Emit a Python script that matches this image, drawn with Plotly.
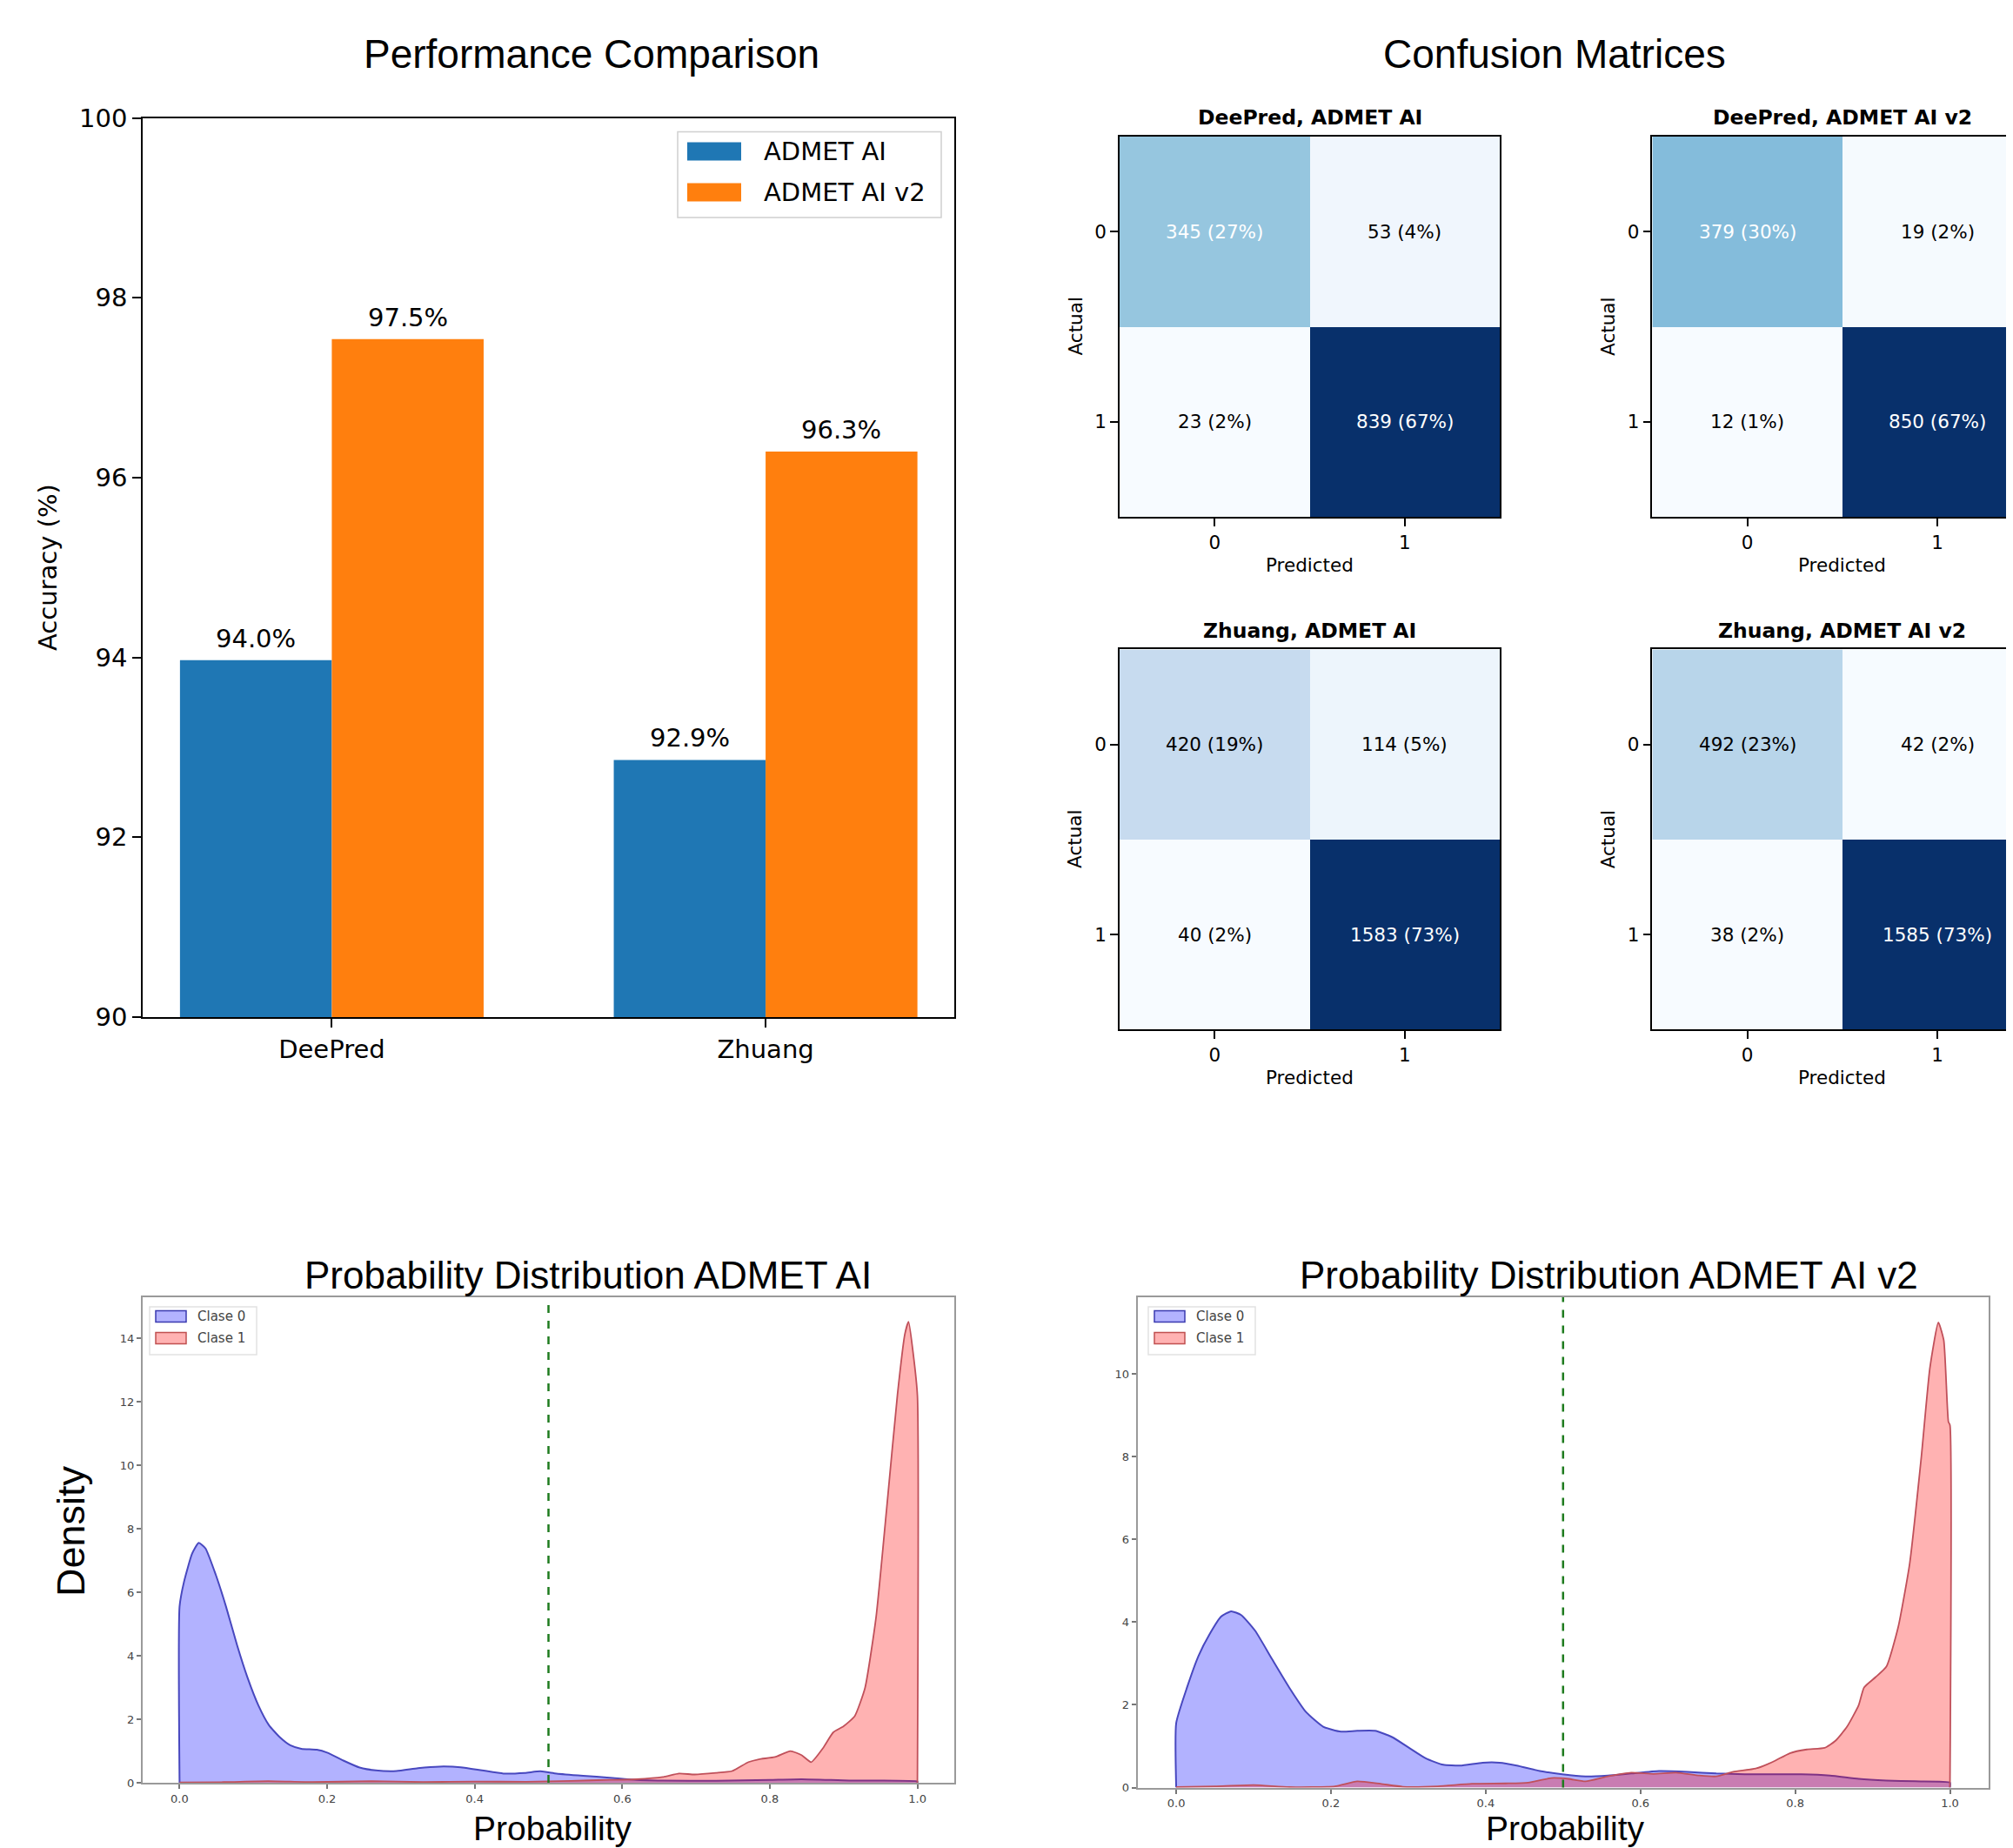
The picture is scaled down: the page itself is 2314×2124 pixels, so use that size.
import numpy as np
import plotly.graph_objects as go

W, H = 2314, 2124
OFF = 8  # page body margin of the html page

# ---------------- data ----------------
datasets = ["DeePred", "Zhuang"]
acc_admet = [93.97, 92.86]
acc_admet_v2 = [97.54, 96.29]
series_names = ["ADMET AI", "ADMET AI v2"]

cm_titles = ["DeePred, ADMET AI", "DeePred, ADMET AI v2", "Zhuang, ADMET AI", "Zhuang, ADMET AI v2"]
cm_deepred_v1 = [[345, 53], [23, 839]]
cm_deepred_v2 = [[379, 19], [12, 850]]
cm_zhuang_v1 = [[420, 114], [40, 1583]]
cm_zhuang_v2 = [[492, 42], [38, 1585]]
cm_ticks = ["0", "1"]

# KDE curves (ADMET AI)
p1_x0 = [0, 0, 0.006, 0.017, 0.026, 0.035, 0.049, 0.063, 0.078, 0.092, 0.107, 0.121, 0.136, 0.15, 0.165, 0.186,
         0.2, 0.222, 0.244, 0.266, 0.294, 0.323, 0.352, 0.381, 0.41, 0.439, 0.468, 0.489, 0.511, 0.547, 0.583,
         0.619, 0.655, 0.727, 0.8, 0.843, 0.908, 1.0, 1.0]
p1_y0 = [0, 5.55, 6.33, 7.22, 7.56, 7.39, 6.56, 5.55, 4.33, 3.32, 2.43, 1.82, 1.43, 1.18, 1.07, 1.04,
         0.95, 0.70, 0.48, 0.39, 0.37, 0.46, 0.51, 0.49, 0.39, 0.29, 0.31, 0.36, 0.29, 0.22, 0.16,
         0.09, 0.07, 0.06, 0.09, 0.11, 0.07, 0.04, 0]
p1_x1 = [0, 0.06, 0.12, 0.18, 0.26, 0.33, 0.4, 0.47, 0.53, 0.583, 0.619, 0.655, 0.677, 0.698, 0.727, 0.749,
         0.771, 0.785, 0.807, 0.828, 0.843, 0.856, 0.872, 0.886, 0.9, 0.915, 0.929, 0.944, 0.958, 0.973,
         0.983, 0.988, 0.994, 1.0, 1.0]
p1_y1 = [0.01, 0.02, 0.05, 0.02, 0.05, 0.02, 0.04, 0.03, 0.06, 0.09, 0.11, 0.18, 0.29, 0.26, 0.31, 0.37,
         0.65, 0.74, 0.81, 1.0, 0.87, 0.65, 1.09, 1.59, 1.78, 2.1, 2.99, 5.22, 8.56, 12.24,
         14.14, 14.53, 13.58, 12.2, 0]

# KDE curves (ADMET AI v2)
p2_x0 = [0, 0, 0.014, 0.029, 0.043, 0.058, 0.071, 0.084, 0.102, 0.124, 0.146, 0.168, 0.19, 0.213, 0.234,
         0.257, 0.279, 0.301, 0.323, 0.345, 0.367, 0.396, 0.418, 0.44, 0.47, 0.499, 0.529, 0.558, 0.588,
         0.624, 0.661, 0.698, 0.735, 0.771, 0.808, 0.845, 0.882, 0.918, 0.955, 1.0, 1.0]
p2_y0 = [0, 1.56, 2.42, 3.19, 3.7, 4.13, 4.26, 4.17, 3.79, 3.1, 2.42, 1.82, 1.47, 1.35, 1.37,
         1.37, 1.22, 0.96, 0.70, 0.55, 0.53, 0.6, 0.6, 0.53, 0.4, 0.32, 0.27, 0.29, 0.34,
         0.4, 0.38, 0.34, 0.32, 0.32, 0.32, 0.29, 0.21, 0.17, 0.15, 0.12, 0]
p2_x1 = [0, 0.05, 0.1, 0.146, 0.205, 0.234, 0.264, 0.293, 0.338, 0.382, 0.426, 0.455, 0.485, 0.507, 0.529,
         0.558, 0.588, 0.617, 0.646, 0.676, 0.698, 0.72, 0.749, 0.771, 0.793, 0.815, 0.838, 0.852, 0.867,
         0.882, 0.889, 0.904, 0.918, 0.933, 0.948, 0.963, 0.974, 0.985, 0.992, 0.998, 1.0, 1.0]
p2_y1 = [0.01, 0.03, 0.06, 0.01, 0.03, 0.15, 0.09, 0.02, 0.03, 0.09, 0.1, 0.12, 0.23, 0.21, 0.15,
         0.27, 0.36, 0.33, 0.36, 0.29, 0.27, 0.38, 0.46, 0.62, 0.83, 0.92, 0.96, 1.13, 1.47,
         1.99, 2.42, 2.67, 2.93, 3.87, 5.42, 7.99, 10.13, 11.24, 10.81, 8.84, 8.76, 0]
kde_names = ["Clase 0", "Clase 1"]
threshold = 0.5
prob_ticks = [0.0, 0.2, 0.4, 0.6, 0.8, 1.0]

# ---------------- helpers (page pixels -> paper fractions) ----------------
def fx(p):
    return (p - OFF) / W

def fy(p):
    return 1 - (p - OFF) / H

MPL = "DejaVu Sans"
TITLE_FONT = "Liberation Sans, Arial, sans-serif"
BLUES = ['rgb(247,251,255)', 'rgb(222,235,247)', 'rgb(198,219,239)', 'rgb(158,202,225)', 'rgb(107,174,214)',
         'rgb(66,146,198)', 'rgb(33,113,181)', 'rgb(8,81,156)', 'rgb(8,48,107)']
blues_scale = [[i / 8, c] for i, c in enumerate(BLUES)]

fig = go.Figure()
annotations = []
shapes = []


def ptext(x, y, text, size, family, color="black", xanchor="center", yanchor="middle", angle=0):
    annotations.append(dict(x=fx(x), y=fy(y), xref="paper", yref="paper", text=text, showarrow=False,
                            xanchor=xanchor, yanchor=yanchor, textangle=angle,
                            font=dict(family=family, size=size, color=color)))


# ---------------- bar chart ----------------
pos = np.arange(len(datasets))
bw = 0.35
fig.add_trace(go.Bar(x=pos - bw / 2, y=acc_admet, width=bw, marker_color="#1f77b4", marker_line_width=0,
                     name=series_names[0], showlegend=False, xaxis="x", yaxis="y"))
fig.add_trace(go.Bar(x=pos + bw / 2, y=acc_admet_v2, width=bw, marker_color="#ff7f0e", marker_line_width=0,
                     name=series_names[1], showlegend=False, xaxis="x", yaxis="y"))
for xs, vals in [(pos - bw / 2, acc_admet), (pos + bw / 2, acc_admet_v2)]:
    for xv, v in zip(xs, vals):
        annotations.append(dict(x=xv, y=v, xref="x", yref="y", text=f"{v:.1f}%", showarrow=False,
                                xanchor="center", yanchor="bottom", yshift=6,
                                font=dict(family=MPL, size=29, color="black")))

axis_common = dict(showgrid=False, zeroline=False, showline=True, linecolor="black", linewidth=1.5,
                   ticks="outside", tickcolor="black", tickwidth=1.5, automargin=False)
fig.update_layout(
    xaxis=dict(domain=[fx(164), fx(1097)], range=[-0.436, 1.435], tickvals=list(pos), ticktext=datasets,
               ticklen=10, mirror=True, tickfont=dict(family=MPL, size=29, color="black"), anchor="y",
               **axis_common),
    yaxis=dict(domain=[fy(1169), fy(135.6)], range=[90, 100], dtick=2, ticklen=10, mirror=True,
               tickfont=dict(family=MPL, size=29, color="black"), anchor="x", **axis_common),
)
ptext(55, 652, "Accuracy (%)", 29, MPL, angle=-90)
# legend (matplotlib style)
shapes.append(dict(type="rect", xref="paper", yref="paper", x0=fx(779), x1=fx(1082), y0=fy(250), y1=fy(151.5),
                   line=dict(color="#d0d0d0", width=1.5), fillcolor="rgba(255,255,255,0.85)"))
for i, (nm, col) in enumerate(zip(series_names, ["#1f77b4", "#ff7f0e"])):
    yc = 174 + i * 47
    shapes.append(dict(type="rect", xref="paper", yref="paper", x0=fx(790), x1=fx(852), y0=fy(yc + 10.5),
                       y1=fy(yc - 10.5), line=dict(width=0), fillcolor=col))
    ptext(876, yc, nm, 29, MPL, xanchor="left")
ptext(680, 62, "Performance Comparison", 46, TITLE_FONT)

# ---------------- confusion matrices ----------------
ptext(1787, 62, "Confusion Matrices", 46, TITLE_FONT)
cms = [cm_deepred_v1, cm_deepred_v2, cm_zhuang_v1, cm_zhuang_v2]
cell = (1724 - 1287) / 2
boxes = [(1287, 157, False), (1899.4, 157, True), (1287, 746.4, False), (1899.4, 746.4, True)]
for k, (cm, title, (x0p, y0p, clipped)) in enumerate(zip(cms, cm_titles, boxes)):
    ax = k + 2
    xa, ya = f"x{ax}", f"y{ax}"
    z = np.array(cm, dtype=float)
    zmin, zmax = z.min(), z.max()
    total = z.sum()
    fig.add_trace(go.Heatmap(z=z, x=[0, 1], y=[0, 1], colorscale=blues_scale, zmin=zmin, zmax=zmax,
                             showscale=False, xaxis=xa, yaxis=ya, hoverinfo="skip"))
    x1p = min(x0p + 2 * cell, W + OFF)
    xr_hi = -0.5 + (x1p - x0p) / cell
    y1p = y0p + 2 * cell
    fig.layout[f"xaxis{ax}"] = dict(domain=[fx(x0p), min(fx(x1p), 1)], range=[-0.5, xr_hi], tickvals=[0, 1],
                                    ticktext=cm_ticks, ticklen=9, mirror=True, anchor=ya,
                                    tickfont=dict(family=MPL, size=21.5, color="black"), **axis_common)
    fig.layout[f"yaxis{ax}"] = dict(domain=[fy(y1p), fy(y0p)], range=[1.5, -0.5], tickvals=[0, 1],
                                    ticktext=cm_ticks, ticklen=9, mirror=not clipped, anchor=xa,
                                    tickfont=dict(family=MPL, size=21.5, color="black"), **axis_common)
    for i in range(2):
        for j in range(2):
            v = int(cm[i][j])
            norm = (v - zmin) / (zmax - zmin)
            col = "white" if norm > 0.35 else "black"
            annotations.append(dict(x=j, y=i, xref=xa, yref=ya, text=f"{v} ({v / total * 100:.0f}%)",
                                    showarrow=False, xanchor="center", yanchor="middle",
                                    font=dict(family=MPL, size=21.5, color=col)))
    cx = x0p + cell
    ptext(cx, y0p - 21.5, f"<b>{title}</b>", 23.5, MPL)
    ptext(cx, y1p + 55.5, "Predicted", 21.5, MPL)
    ptext(x0p - 51, y0p + cell, "Actual", 21.5, MPL, angle=-90)

# ---------------- KDE plots ----------------
kde_axis = dict(showgrid=False, zeroline=False, showline=True, linecolor="#9a9a9a", linewidth=2, mirror=True,
                ticks="outside", tickcolor="#777", tickwidth=1.5, ticklen=5, automargin=False)
kde_sets = [
    (6, p1_x0, p1_y0, p1_x1, p1_y1, (164, 1097, 1491, 2049), [0, 15.3], "Probability Distribution ADMET AI",
     (182, 1513), 676, 635),
    (7, p2_x0, p2_y0, p2_x1, p2_y1, (1307.6, 2286, 1491, 2054.5), [0, 11.85],
     "Probability Distribution ADMET AI v2", (1330, 1513), 1849, 1799),
]
for ax, xb, yb, xr, yr, (l, r, t, b), yrange, title, (lgx, lgy), tcx, lcx in kde_sets:
    xa, ya = f"x{ax}", f"y{ax}"
    fig.add_trace(go.Scatter(x=xb, y=yb, mode="lines", fill="tozeroy", fillcolor="rgba(0,0,255,0.3)",
                             line=dict(color="#4848bf", width=2, shape="spline", smoothing=0.5),
                             name=kde_names[0], showlegend=False, xaxis=xa, yaxis=ya, hoverinfo="skip"))
    fig.add_trace(go.Scatter(x=xr, y=yr, mode="lines", fill="tozeroy", fillcolor="rgba(255,0,0,0.3)",
                             line=dict(color="#c0505a", width=1.8, shape="spline", smoothing=0.5),
                             name=kde_names[1], showlegend=False, xaxis=xa, yaxis=ya, hoverinfo="skip"))
    fig.layout[f"xaxis{ax}"] = dict(domain=[fx(l), fx(r)], range=[-0.05, 1.05], tickvals=prob_ticks,
                                    tickformat=".1f", anchor=ya,
                                    tickfont=dict(family=MPL, size=13, color="#444"), **kde_axis)
    fig.layout[f"yaxis{ax}"] = dict(domain=[fy(b), fy(t)], range=yrange, dtick=2, anchor=xa,
                                    tickfont=dict(family=MPL, size=13, color="#444"), **kde_axis)
    shapes.append(dict(type="line", xref=xa, yref=f"{ya} domain", x0=threshold, x1=threshold, y0=0, y1=1,
                       line=dict(color="#1e7b1e", width=2.5, dash="dash")))
    # legend box
    shapes.append(dict(type="rect", xref="paper", yref="paper", x0=fx(lgx - 10), x1=fx(lgx + 113),
                       y0=fy(lgy + 44), y1=fy(lgy - 11), line=dict(color="#e2e2e2", width=1.5),
                       fillcolor="rgba(255,255,255,0.8)"))
    for i, (nm, fc, lc) in enumerate(zip(kde_names, ["rgba(0,0,255,0.3)", "rgba(255,0,0,0.3)"],
                                         ["#3a3ab0", "#c05050"])):
        yc = lgy + i * 25
        shapes.append(dict(type="rect", xref="paper", yref="paper", x0=fx(lgx - 3), x1=fx(lgx + 32),
                           y0=fy(yc + 6.5), y1=fy(yc - 6.5), line=dict(color=lc, width=1.5), fillcolor=fc))
        ptext(lgx + 43, yc, nm, 15, MPL, color="#444", xanchor="left")
    ptext(tcx, 1465, title, 44, TITLE_FONT)
    ptext(lcx, 2125, "Probability", 39, TITLE_FONT, yanchor="bottom")

ptext(81, 1760, "Density", 45, TITLE_FONT, angle=-90)

fig.update_layout(width=W, height=H, margin=dict(l=0, r=0, t=0, b=0, pad=0), paper_bgcolor="white",
                  plot_bgcolor="white", annotations=annotations, shapes=shapes, showlegend=False,
                  barmode="overlay")
fig.write_html("out.html")
